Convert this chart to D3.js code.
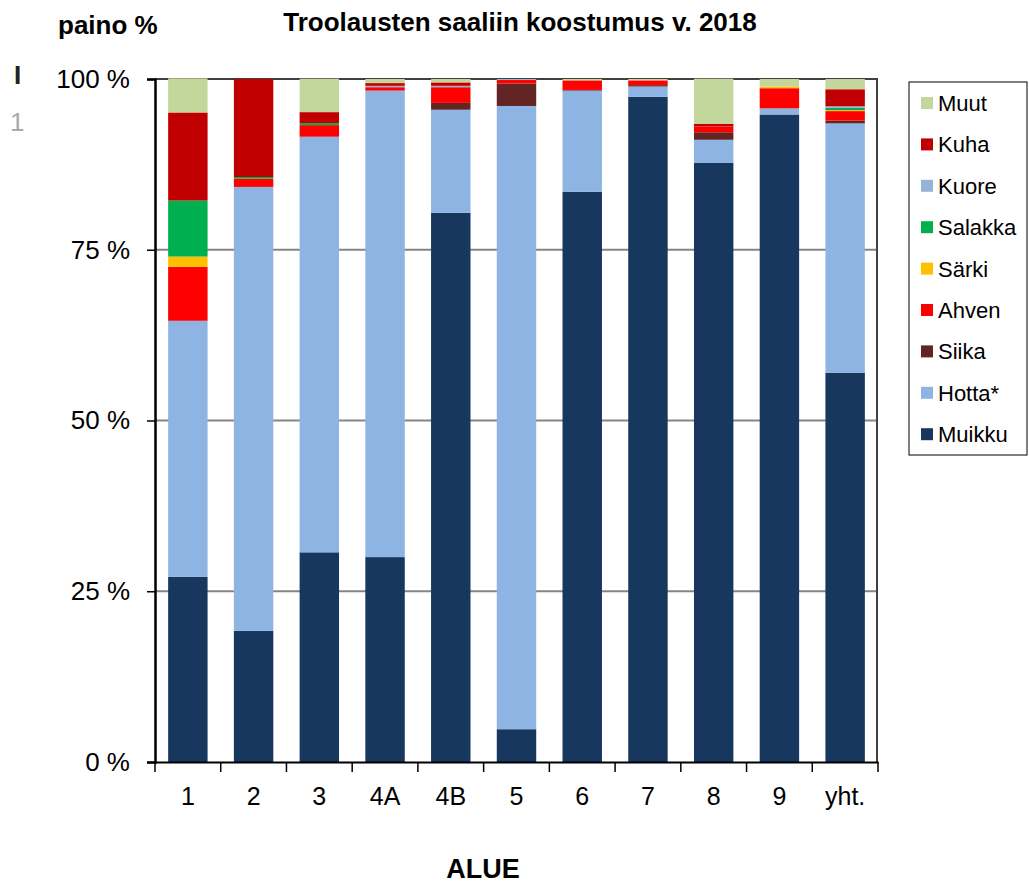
<!DOCTYPE html>
<html>
<head>
<meta charset="utf-8">
<script src="https://cdn.jsdelivr.net/npm/d3@7"></script>
<style>
  body { margin: 0; background: #fff; }
  text { font-family: "Liberation Sans", Arial, sans-serif; }
</style>
</head>
<body>
<div id="chart"></div>
<script>
var categories = ["1", "2", "3", "4A", "4B", "5", "6", "7", "8", "9", "yht."];
// weight shares (%) per area, bottom to top
var muikku  = [27.1, 19.2, 30.7, 30.0, 80.4, 4.8, 83.5, 97.4, 87.7, 94.8, 57.0];
var hotta   = [37.5, 65.0, 60.85, 68.3, 15.1, 91.25, 14.8, 1.5, 3.4, 0.9, 36.5];
var siika   = [0, 0, 0, 0, 1.0, 3.3, 0.1, 0.2, 1.1, 0, 0.4];
var ahven   = [7.9, 1.2, 1.7, 0.5, 2.3, 0.5, 1.4, 0.7, 0.85, 2.95, 1.4];
var sarki   = [1.5, 0, 0, 0, 0, 0, 0, 0, 0, 0.25, 0.15];
var salakka = [8.2, 0.25, 0.3, 0, 0, 0, 0, 0, 0, 0, 0.35];
var kuore   = [0, 0, 0, 0.2, 0.2, 0.15, 0, 0, 0, 0, 0.2];
var kuha    = [12.9, 14.35, 1.6, 0.4, 0.5, 0, 0, 0, 0.4, 0, 2.5];
var muut    = [5.0, 0, 4.9, 0.6, 0.5, 0, 0.2, 0.2, 6.6, 1.1, 1.5];
var yTicks = [0, 25, 50, 75, 100];

var keys = ["Muikku", "Hotta*", "Siika", "Ahven", "Särki", "Salakka", "Kuore", "Kuha", "Muut"];
var series = [muikku, hotta, siika, ahven, sarki, salakka, kuore, kuha, muut];
var colors = ["#17375E", "#8EB4E3", "#632523", "#FF0000", "#FFC000", "#00B050", "#95B3D7", "#C00000", "#C3D69B"];

var rows = categories.map(function(c, i) {
  var r = {cat: c};
  keys.forEach(function(k, j) { r[k] = series[j][i]; });
  return r;
});

var W = 1029, H = 883;
var svg = d3.select("#chart").append("svg").attr("width", W).attr("height", H);

var x = d3.scaleBand().domain(categories).range([155, 878]).paddingInner(0.4).paddingOuter(0.2);
var y = d3.scaleLinear().domain([0, 100]).range([762, 79]);

// gridlines
svg.append("g").selectAll("line")
  .data(yTicks.filter(function(d) { return d > 0; }))
  .enter().append("line")
  .attr("x1", 155).attr("x2", 877)
  .attr("y1", function(d) { return y(d); }).attr("y2", function(d) { return y(d); })
  .attr("stroke", function(d) { return d == 100 ? "#404040" : "#858585"; })
  .attr("stroke-width", 2);

// right frame
svg.append("line").attr("x1", 877).attr("x2", 877).attr("y1", 78).attr("y2", 763)
  .attr("stroke", "#404040").attr("stroke-width", 2);

var stacked = d3.stack().keys(keys)(rows);
var color = d3.scaleOrdinal().domain(keys).range(colors);

svg.append("g").selectAll("g")
  .data(stacked)
  .enter().append("g")
  .attr("fill", function(d) { return color(d.key); })
  .selectAll("rect")
  .data(function(d) { return d; })
  .enter().append("rect")
  .attr("x", function(d) { return x(d.data.cat); })
  .attr("width", x.bandwidth())
  .attr("y", function(d) { return y(d[1]); })
  .attr("height", function(d) { return Math.max(0, y(d[0]) - y(d[1])); });

// y axis
var yAxis = svg.append("g")
  .attr("transform", "translate(155,0)")
  .call(d3.axisLeft(y).tickValues(yTicks).tickSize(8).tickPadding(17)
    .tickFormat(function(d) { return d + " %"; }));
yAxis.select(".domain").attr("stroke", "#000").attr("stroke-width", 2.5);
yAxis.selectAll(".tick line").attr("stroke", "#000").attr("stroke-width", 1.5);
yAxis.selectAll("text").style("font-size", "26px").attr("fill", "#000")
  .style("font-family", "'Liberation Sans', Arial, sans-serif");

// x axis
var xAxis = svg.append("g")
  .attr("transform", "translate(0,762)")
  .call(d3.axisBottom(x).tickSize(0).tickPadding(25));
xAxis.select(".domain").attr("stroke", "#000").attr("stroke-width", 2);
xAxis.selectAll("text").style("font-size", "25px").attr("fill", "#000")
  .style("font-family", "'Liberation Sans', Arial, sans-serif");
svg.append("g").selectAll("line")
  .data(d3.range(categories.length + 1))
  .enter().append("line")
  .attr("x1", function(i) { return 155 + i * x.step(); })
  .attr("x2", function(i) { return 155 + i * x.step(); })
  .attr("y1", 762).attr("y2", 772)
  .attr("stroke", "#000").attr("stroke-width", 1.5);

// titles
svg.append("text").attr("x", 520).attr("y", 31).attr("text-anchor", "middle")
  .style("font-size", "26px").style("font-weight", "bold")
  .text("Troolausten saaliin koostumus v. 2018");
svg.append("text").attr("x", 58).attr("y", 34)
  .style("font-size", "26px").style("font-weight", "bold")
  .text("paino %");
svg.append("text").attr("x", 483).attr("y", 878).attr("text-anchor", "middle")
  .style("font-size", "27px").style("font-weight", "bold")
  .text("ALUE");

// cut-off remnants at the left edge
svg.append("text").attr("x", 14).attr("y", 84).style("font-size", "26px").style("font-weight", "bold")
  .attr("fill", "#222").text("I");
svg.append("text").attr("x", 10).attr("y", 131).style("font-size", "26px")
  .attr("fill", "#aaa").text("1");

// legend
var lg = svg.append("g");
lg.append("rect").attr("x", 909).attr("y", 82).attr("width", 118).attr("height", 373)
  .attr("fill", "#fff").attr("stroke", "#000").attr("stroke-width", 1);
var legendKeys = keys.slice().reverse();
var item = lg.selectAll("g.item")
  .data(legendKeys)
  .enter().append("g").attr("class", "item")
  .attr("transform", function(d, i) { return "translate(921," + (103 + i * 41.4) + ")"; });
item.append("rect").attr("x", 0).attr("y", -6).attr("width", 12).attr("height", 12)
  .attr("fill", function(d) { return color(d); });
item.append("text").attr("x", 17).attr("y", 8)
  .style("font-size", "22px").text(function(d) { return d; });
</script>
</body>
</html>
